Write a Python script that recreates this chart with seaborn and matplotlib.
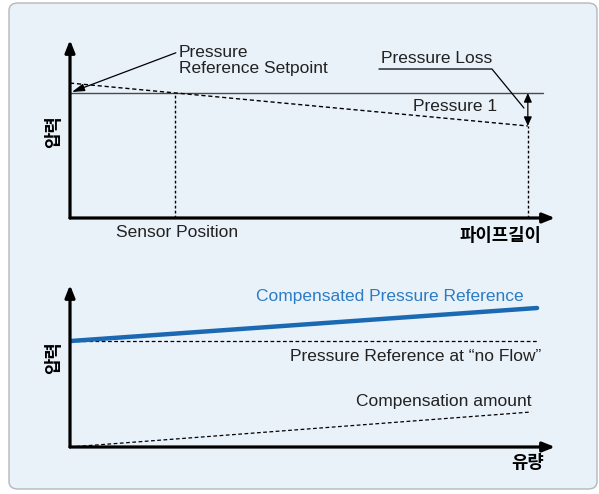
import matplotlib
matplotlib.use('Agg')
import matplotlib.pyplot as plt
import seaborn as sns
import pandas as pd
from matplotlib.patches import FancyBboxPatch

# ---- top chart: pressure along the pipe ----
pipe_x = [0, 94.4]
pressure1 = [75.8, 51.7]
setpoint_x = [0, 97.5]
setpoint = [70.2, 70.2]
sensor_x = 21.6
loss_leader_x = [63.7, 87.0, 93.6]
loss_leader_y = [83.7, 83.7, 61.8]

# ---- bottom chart: pressure vs flow ----
flow_x = [0, 96.3]
compensated = [65.4, 85.8]
noflow_x = [0, 96.5]
noflow = [65.4, 65.4]
comp_x = [0, 95.1]
comp_amount = [0, 21.6]

sns.set_theme(style='white')
plt.rcParams['font.family'] = ['Liberation Sans', 'DejaVu Sans']

W, H = 599, 494
fig = plt.figure(figsize=(W / 100, H / 100), dpi=100)
fig.patch.set_facecolor('white')

panel = FancyBboxPatch((9 / W, 5 / H), (588 / W), (486 / H),
                       boxstyle='round,pad=0,rounding_size=0.015',
                       transform=fig.transFigure, facecolor='#E9F1F9',
                       edgecolor='#B4B8BC', linewidth=1.0, zorder=-10)
fig.patches.append(panel)

def px_axes(x0, y0, x1, y1):
    ax = fig.add_axes([x0 / W, 1 - y1 / H, (x1 - x0) / W, (y1 - y0) / H])
    ax.set_xlim(0, 100)
    ax.set_ylim(0, 100)
    ax.patch.set_alpha(0)
    for s in ax.spines.values():
        s.set_visible(False)
    ax.set_xticks([])
    ax.set_yticks([])
    # axis arrows
    ax.annotate('', xy=(0, 1), xytext=(0, 0), xycoords='axes fraction',
                arrowprops=dict(arrowstyle='-|>,head_length=0.6,head_width=0.24',
                                lw=2.3, color='black', shrinkA=0, shrinkB=0),
                annotation_clip=False)
    ax.annotate('', xy=(1, 0), xytext=(0, 0), xycoords='axes fraction',
                arrowprops=dict(arrowstyle='-|>,head_length=0.6,head_width=0.24',
                                lw=2.3, color='black', shrinkA=0, shrinkB=0),
                annotation_clip=False)
    return ax

FS = 12.5
KFS = 12.8
KFONT = ['Noto Sans CJK KR', 'DejaVu Sans']
dash = (0, (3, 2))
dot = (0, (2, 1.6))

# ================= top chart =================
ax1 = px_axes(70, 40, 555, 218)
sns.lineplot(x=setpoint_x, y=setpoint, ax=ax1, color='#4a4a4a', lw=1.0)
sns.lineplot(x=pipe_x, y=pressure1, ax=ax1, color='black', lw=1.0, linestyle=dash)
ax1.plot([sensor_x, sensor_x], [0, setpoint[0]], color='black', lw=1.0, linestyle=dot)
ax1.plot([pipe_x[1], pipe_x[1]], [0, pressure1[1]], color='black', lw=1.0, linestyle=dot)
ax1.annotate('', xy=(pipe_x[1], pressure1[1]), xytext=(pipe_x[1], setpoint[0]),
             arrowprops=dict(arrowstyle='<|-|>,head_length=0.45,head_width=0.2',
                             lw=0.9, color='black', shrinkA=0, shrinkB=0))
ax1.plot(loss_leader_x, loss_leader_y, color='black', lw=0.9)
ax1.text(loss_leader_x[0] + 0.4, loss_leader_y[0] + 1.5, 'Pressure Loss',
         fontsize=FS, color='#222222', ha='left', va='bottom')
ax1.text(88.0, 62.9, 'Pressure 1', fontsize=FS, color='#222222', ha='right', va='center')
ax1.annotate('Pressure\nReference Setpoint', xy=(0.4, setpoint[0] + 0.6),
             xytext=(22.5, 88.5), fontsize=FS, color='#222222', ha='left', va='center',
             linespacing=1.15,
             arrowprops=dict(arrowstyle='-|>,head_length=0.6,head_width=0.18',
                             lw=0.9, color='black', shrinkA=0, shrinkB=0,
                             relpos=(0, 0.78)))
ax1.text(sensor_x + 0.5, -7.9, 'Sensor Position', fontsize=FS, color='#222222',
         ha='center', va='center', clip_on=False)
ax1.text(97.1, -10.3, '파이프길이', fontsize=KFS, fontweight='bold', family=KFONT,
         ha='right', va='center', color='black', clip_on=False)
ax1.text(-3.3, 48.3, '압력', fontsize=KFS, fontweight='bold', family=KFONT,
         ha='center', va='center', rotation=90, color='black', clip_on=False)

# ================= bottom chart =================
ax2 = px_axes(70, 285, 555, 447)
sns.lineplot(x=noflow_x, y=noflow, ax=ax2, color='black', lw=0.9, linestyle=dash)
sns.lineplot(x=flow_x, y=compensated, ax=ax2, color='#1B69B3', lw=3.2)
sns.lineplot(x=comp_x, y=comp_amount, ax=ax2, color='black', lw=0.9, linestyle=dash)
ax2.text(38.4, 93.2, 'Compensated Pressure Reference', fontsize=FS, color='#2B7CC6',
         ha='left', va='center', clip_on=False)
ax2.text(97.1, 55.6, 'Pressure Reference at \u201cno Flow\u201d', fontsize=FS,
         color='#222222', ha='right', va='center')
ax2.text(95.1, 27.8, 'Compensation amount', fontsize=FS, color='#222222',
         ha='right', va='center')
ax2.text(97.7, -9.9, '유량', fontsize=KFS, fontweight='bold', family=KFONT,
         ha='right', va='center', color='black', clip_on=False)
ax2.text(-3.3, 54.9, '압력', fontsize=KFS, fontweight='bold', family=KFONT,
         ha='center', va='center', rotation=90, color='black', clip_on=False)

fig.savefig('out.png', dpi=100, facecolor=fig.get_facecolor())
